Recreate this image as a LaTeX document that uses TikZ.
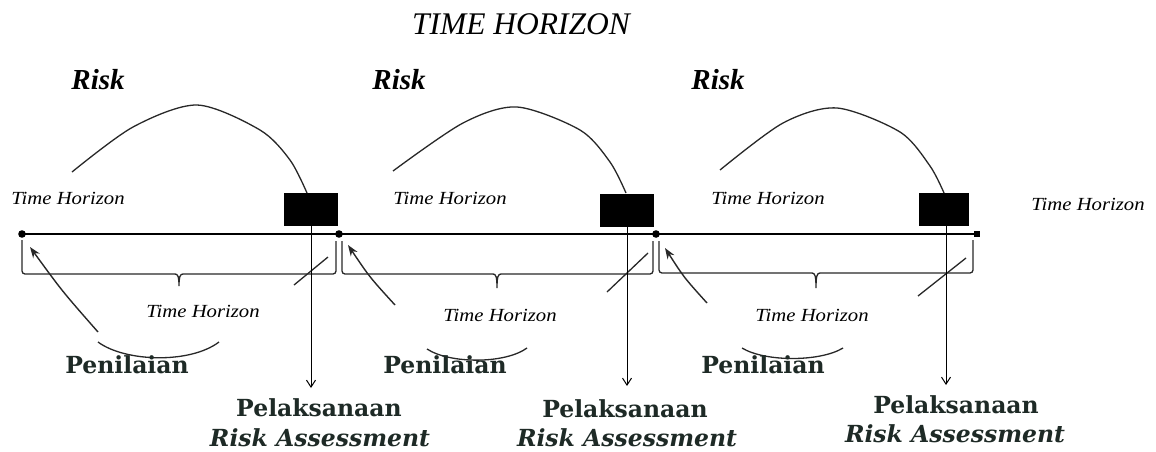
\documentclass[tikz,border=0pt]{standalone}
\usepackage{fontspec}
\setmainfont{Liberation Serif}
\newfontfamily\slabfont{DejaVu Serif}
\newfontfamily\thfont[FakeStretch=1.12]{Liberation Serif}
\usetikzlibrary{arrows.meta}
\definecolor{labelink}{RGB}{30,42,38}
\definecolor{lineink}{RGB}{40,40,40}
\begin{document}
\begin{tikzpicture}[x=1pt,y=-1pt,
  titlestyle/.style={font=\fontsize{31.5}{34}\selectfont\itshape, inner sep=0pt},
  riskstyle/.style={font=\fontsize{29}{32}\selectfont\bfseries\itshape, inner sep=0pt},
  thz/.style={font=\thfont\fontsize{18.5}{22}\selectfont\itshape, inner sep=0pt},
  penstyle/.style={font=\slabfont\fontsize{23.5}{26}\selectfont\bfseries, text=labelink, inner sep=0pt},
  rastyle/.style={font=\slabfont\fontsize{23.5}{26}\selectfont\bfseries\itshape, text=labelink, inner sep=0pt},
  blk/.style={fill=black, minimum width=54pt, minimum height=33pt, inner sep=0pt},
  tline/.style={line width=2.8pt, draw=black},
  curve/.style={line width=1.3pt, draw=lineink},
  bracestyle/.style={line width=1.3pt, draw=lineink},
  varrow/.style={line width=1pt, draw=black, -{Straight Barb[length=7pt,width=9pt]}},
  larrow/.style={line width=1.4pt, draw=lineink, -{Stealth[length=11pt,width=8pt]}}
]
\fill[white] (0,0) rectangle (1156,451);
\useasboundingbox (0,0) rectangle (1156,451);

% title
\node[titlestyle] (title) at (521,24) {TIME HORIZON};

% Risk labels
\node[riskstyle] (risk1) at (98,80) {Risk};
\node[riskstyle] (risk2) at (399,80) {Risk};
\node[riskstyle] (risk3) at (718,80) {Risk};

% upper Time Horizon labels
\node[thz] (thu1) at (68,198) {Time Horizon};
\node[thz] (thu2) at (450,198) {Time Horizon};
\node[thz] (thu3) at (768,198) {Time Horizon};
\node[thz] (thu4) at (1088,204) {Time Horizon};

% timeline
\coordinate (d1) at (22,234);
\coordinate (d2) at (339,234);
\coordinate (d3) at (656,234);
\coordinate (dend) at (977,234);
\draw[tline] (d1) -- (dend);
\fill (d1) circle (3.8);
\fill (d2) circle (3.8);
\fill (d3) circle (3.8);
\fill (dend) ++(-3,-3) rectangle ++(6,6);

% black boxes
\node[blk] (r1) at (311,209.5) {};
\node[blk] (r2) at (627,210) {};
\node[blk, minimum width=50pt] (r3) at (943.5,209.5) {};

% risk arcs
\draw[curve] plot[smooth] coordinates {(72,172) (133,127) (197,105) (260,130) (290,160) (307,193)};
\draw[curve] plot[smooth] coordinates {(393,171) (463,123) (517,107) (580,130) (610,162) (626,193)};
\draw[curve] plot[smooth] coordinates {(720,170) (783,123) (837,108) (900,132) (930,166) (944,193)};

% braces
\draw[bracestyle, rounded corners=3pt] (22,240) -- (22,274) -- (175,274);
\draw[bracestyle] (175,274) .. controls (178,274) and (179,277) .. (179,286)
  .. controls (179,277) and (180,274) .. (183,274);
\draw[bracestyle, rounded corners=3pt] (183,274) -- (336,274) -- (336,241);
\draw[bracestyle, rounded corners=3pt] (342,241) -- (342,274) -- (493,274);
\draw[bracestyle] (493,274) .. controls (496,274) and (497,277) .. (497,288)
  .. controls (497,277) and (498,274) .. (501,274);
\draw[bracestyle, rounded corners=3pt] (501,274) -- (653,274) -- (653,241);
\draw[bracestyle, rounded corners=3pt] (659,241) -- (659,273) -- (812,273);
\draw[bracestyle] (812,273) .. controls (815,273) and (816,276) .. (816,288)
  .. controls (816,276) and (817,273) .. (820,273);
\draw[bracestyle, rounded corners=3pt] (820,273) -- (973,273) -- (973,240);

% lower Time Horizon labels
\node[thz] (thl1) at (203,311) {Time Horizon};
\node[thz] (thl2) at (500,315) {Time Horizon};
\node[thz] (thl3) at (812,315) {Time Horizon};

% arrows towards the dots
\coordinate (a1s) at (98,332);  \coordinate (a1t) at (30,247);
\coordinate (a2s) at (395,305); \coordinate (a2t) at (348,245);
\coordinate (a3s) at (707,303); \coordinate (a3t) at (665,248);
\draw[larrow] (a1s) .. controls (62,291) .. (a1t);
\draw[larrow] (a2s) .. controls (369.5,277) .. (a2t);
\draw[larrow] (a3s) .. controls (684,277.5) .. (a3t);

% bottom arcs
\draw[curve] (98,342) .. controls (125,362) and (190,364) .. (219,342);
\draw[curve] (427,349) .. controls (450,364) and (505,364) .. (527,348);
\draw[curve] (742,348) .. controls (765,362) and (820,362) .. (843,348);

% slashes
\draw[curve] (294,285) -- (328,257);
\draw[curve] (607,292) -- (648,253);
\draw[curve] (918,296) -- (966,258);

% vertical arrows
\coordinate (v1) at (311,388);
\coordinate (v2) at (627,386);
\coordinate (v3) at (946,385);
\draw[varrow] (r1.south) -- (v1);
\draw[varrow] (r2.south) -- (v2);
\draw[varrow] ([xshift=2.5pt]r3.south) -- (v3);

% Penilaian
\node[penstyle] (pen1) at (127,365) {Penilaian};
\node[penstyle] (pen2) at (445,365) {Penilaian};
\node[penstyle] (pen3) at (763,365) {Penilaian};

% Pelaksanaan Risk Assessment
\node[penstyle] (pel1) at (319,408) {Pelaksanaan};
\node[rastyle] (ra1) at (320,438) {Risk Assessment};
\node[penstyle] (pel2) at (625,409) {Pelaksanaan};
\node[rastyle] (ra2) at (627,438) {Risk Assessment};
\node[penstyle] (pel3) at (956,405) {Pelaksanaan};
\node[rastyle] (ra3) at (955,434) {Risk Assessment};
\end{tikzpicture}
\end{document}
